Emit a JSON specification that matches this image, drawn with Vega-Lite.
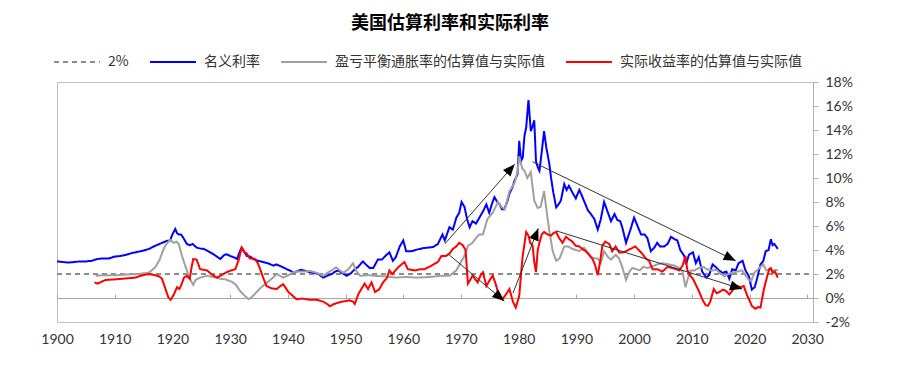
{
  "$schema": "https://vega.github.io/schema/vega-lite/v6.json",
  "width": 756,
  "height": 240,
  "autosize": "none",
  "padding": {"left": 57, "top": 82, "right": 86, "bottom": 53},
  "background": "white",
  "title": {"text": "美国估算利率和实际利率", "font": "Noto Sans CJK SC", "fontSize": 18, "fontWeight": "bold", "color": "#000000", "anchor": "middle", "frame": "group", "dx": 15, "offset": 5},
  "config": {
    "view": {"stroke": "#c0c0c0", "strokeWidth": 1},
    "axis": {"grid": false, "title": null},
    "axisY": {"labelOverlap": false}
  },
  "datasets": {
    "rates": [
      {"s":"D","t":1900,"v":2},{"s":"D","t":2031,"v":2},
      {"s":"N","t":1900,"v":3.05},{"s":"N","t":1901,"v":3.0},{"s":"N","t":1902,"v":2.95},{"s":"N","t":1903,"v":3.0},{"s":"N","t":1904,"v":3.05},{"s":"N","t":1905,"v":3.05},{"s":"N","t":1906,"v":3.1},{"s":"N","t":1907,"v":3.25},{"s":"N","t":1908,"v":3.3},{"s":"N","t":1909,"v":3.3},{"s":"N","t":1910,"v":3.45},{"s":"N","t":1911,"v":3.5},{"s":"N","t":1912,"v":3.6},{"s":"N","t":1913,"v":3.75},{"s":"N","t":1914,"v":3.85},{"s":"N","t":1915,"v":3.95},{"s":"N","t":1916,"v":4.1},{"s":"N","t":1917,"v":4.35},{"s":"N","t":1918,"v":4.55},{"s":"N","t":1919,"v":4.75},{"s":"N","t":1919.6,"v":4.8},{"s":"N","t":1920.0,"v":5.3},{"s":"N","t":1920.5,"v":5.75},{"s":"N","t":1920.8,"v":5.4},{"s":"N","t":1921.1,"v":5.3},{"s":"N","t":1921.5,"v":5.3},{"s":"N","t":1921.9,"v":5.0},{"s":"N","t":1922.5,"v":4.5},{"s":"N","t":1923,"v":4.4},{"s":"N","t":1923.5,"v":4.5},{"s":"N","t":1924.2,"v":4.2},{"s":"N","t":1925,"v":4.1},{"s":"N","t":1925.4,"v":4.1},{"s":"N","t":1926,"v":3.95},{"s":"N","t":1927.1,"v":3.65},{"s":"N","t":1928,"v":3.35},{"s":"N","t":1928.3,"v":3.25},{"s":"N","t":1929,"v":3.6},{"s":"N","t":1929.4,"v":3.65},{"s":"N","t":1930,"v":3.5},{"s":"N","t":1930.6,"v":3.4},{"s":"N","t":1931.2,"v":3.25},{"s":"N","t":1931.7,"v":3.9},{"s":"N","t":1932,"v":4.2},{"s":"N","t":1932.5,"v":3.8},{"s":"N","t":1932.9,"v":3.5},{"s":"N","t":1933.5,"v":3.45},{"s":"N","t":1934,"v":3.25},{"s":"N","t":1934.8,"v":3.1},{"s":"N","t":1935.7,"v":3.0},{"s":"N","t":1936.5,"v":2.9},{"s":"N","t":1937.5,"v":2.7},{"s":"N","t":1938,"v":2.8},{"s":"N","t":1939,"v":2.6},{"s":"N","t":1939.8,"v":2.4},{"s":"N","t":1940.3,"v":2.3},{"s":"N","t":1940.9,"v":2.15},{"s":"N","t":1941.5,"v":2.2},{"s":"N","t":1942.2,"v":2.35},{"s":"N","t":1942.7,"v":2.3},{"s":"N","t":1943.5,"v":2.2},{"s":"N","t":1944.5,"v":2.1},{"s":"N","t":1945.3,"v":2.0},{"s":"N","t":1946.1,"v":1.7},{"s":"N","t":1946.8,"v":1.85},{"s":"N","t":1947.6,"v":2.0},{"s":"N","t":1948.2,"v":2.2},{"s":"N","t":1948.7,"v":2.3},{"s":"N","t":1949.5,"v":2.05},{"s":"N","t":1950.2,"v":1.85},{"s":"N","t":1950.9,"v":2.05},{"s":"N","t":1951.6,"v":2.4},{"s":"N","t":1952.2,"v":2.6},{"s":"N","t":1953.0,"v":3.05},{"s":"N","t":1953.5,"v":2.8},{"s":"N","t":1954.2,"v":2.5},{"s":"N","t":1954.8,"v":2.5},{"s":"N","t":1955.6,"v":3.2},{"s":"N","t":1956.3,"v":3.2},{"s":"N","t":1957.1,"v":3.6},{"s":"N","t":1957.6,"v":3.8},{"s":"N","t":1958.2,"v":3.1},{"s":"N","t":1958.7,"v":3.4},{"s":"N","t":1959.4,"v":4.3},{"s":"N","t":1960.0,"v":4.8},{"s":"N","t":1960.5,"v":3.9},{"s":"N","t":1961.4,"v":3.9},{"s":"N","t":1962.5,"v":4.05},{"s":"N","t":1963.4,"v":4.15},{"s":"N","t":1964.3,"v":4.2},{"s":"N","t":1965.2,"v":4.25},{"s":"N","t":1966.0,"v":4.5},{"s":"N","t":1966.8,"v":5.3},{"s":"N","t":1967.2,"v":4.8},{"s":"N","t":1968,"v":5.9},{"s":"N","t":1968.6,"v":5.7},{"s":"N","t":1969.2,"v":6.7},{"s":"N","t":1969.7,"v":7.1},{"s":"N","t":1970.1,"v":8.0},{"s":"N","t":1970.6,"v":7.6},{"s":"N","t":1971.1,"v":6.5},{"s":"N","t":1971.5,"v":5.9},{"s":"N","t":1972.0,"v":6.4},{"s":"N","t":1972.6,"v":6.2},{"s":"N","t":1973.2,"v":6.7},{"s":"N","t":1973.8,"v":7.2},{"s":"N","t":1974.4,"v":7.8},{"s":"N","t":1974.9,"v":7.1},{"s":"N","t":1975.4,"v":7.9},{"s":"N","t":1975.8,"v":8.4},{"s":"N","t":1976.3,"v":8.0},{"s":"N","t":1976.7,"v":7.8},{"s":"N","t":1977.1,"v":7.4},{"s":"N","t":1977.5,"v":7.4},{"s":"N","t":1978.0,"v":8.0},{"s":"N","t":1978.4,"v":8.7},{"s":"N","t":1978.9,"v":9.2},{"s":"N","t":1979.3,"v":9.8},{"s":"N","t":1979.8,"v":10.3},{"s":"N","t":1980.1,"v":13.1},{"s":"N","t":1980.4,"v":11.4},{"s":"N","t":1980.7,"v":11.7},{"s":"N","t":1981.0,"v":13.5},{"s":"N","t":1981.3,"v":14.2},{"s":"N","t":1981.7,"v":16.5},{"s":"N","t":1982.1,"v":13.9},{"s":"N","t":1982.4,"v":14.3},{"s":"N","t":1982.7,"v":14.8},{"s":"N","t":1983.0,"v":11.4},{"s":"N","t":1983.3,"v":10.9},{"s":"N","t":1983.6,"v":10.6},{"s":"N","t":1984.0,"v":12.2},{"s":"N","t":1984.4,"v":13.9},{"s":"N","t":1984.8,"v":12.5},{"s":"N","t":1985.0,"v":12.0},{"s":"N","t":1985.3,"v":11.2},{"s":"N","t":1985.6,"v":10.05},{"s":"N","t":1986.0,"v":8.8},{"s":"N","t":1986.5,"v":7.55},{"s":"N","t":1986.9,"v":7.8},{"s":"N","t":1987.3,"v":8.1},{"s":"N","t":1987.9,"v":9.5},{"s":"N","t":1988.3,"v":9.0},{"s":"N","t":1988.7,"v":9.35},{"s":"N","t":1989.3,"v":8.8},{"s":"N","t":1989.9,"v":8.3},{"s":"N","t":1990.5,"v":9.0},{"s":"N","t":1990.8,"v":8.7},{"s":"N","t":1991.4,"v":8.0},{"s":"N","t":1992.0,"v":7.3},{"s":"N","t":1992.5,"v":7.0},{"s":"N","t":1993.1,"v":6.6},{"s":"N","t":1993.7,"v":5.7},{"s":"N","t":1994.2,"v":6.5},{"s":"N","t":1994.8,"v":8.0},{"s":"N","t":1995.4,"v":7.2},{"s":"N","t":1996.0,"v":6.4},{"s":"N","t":1996.6,"v":7.0},{"s":"N","t":1997.1,"v":6.5},{"s":"N","t":1997.6,"v":6.4},{"s":"N","t":1998.0,"v":5.8},{"s":"N","t":1998.6,"v":4.6},{"s":"N","t":1999.3,"v":5.6},{"s":"N","t":2000.0,"v":6.7},{"s":"N","t":2000.6,"v":6.0},{"s":"N","t":2001.2,"v":5.3},{"s":"N","t":2001.8,"v":5.3},{"s":"N","t":2002.3,"v":5.0},{"s":"N","t":2002.9,"v":3.9},{"s":"N","t":2003.5,"v":4.2},{"s":"N","t":2004.0,"v":4.6},{"s":"N","t":2004.5,"v":4.3},{"s":"N","t":2005.2,"v":4.3},{"s":"N","t":2005.8,"v":4.5},{"s":"N","t":2006.4,"v":5.1},{"s":"N","t":2007.0,"v":4.9},{"s":"N","t":2007.5,"v":4.8},{"s":"N","t":2008.0,"v":4.0},{"s":"N","t":2008.7,"v":3.5},{"s":"N","t":2009.0,"v":2.8},{"s":"N","t":2009.5,"v":3.6},{"s":"N","t":2010.2,"v":3.8},{"s":"N","t":2010.7,"v":2.9},{"s":"N","t":2011.2,"v":3.4},{"s":"N","t":2011.8,"v":2.2},{"s":"N","t":2012.5,"v":1.7},{"s":"N","t":2013.0,"v":1.9},{"s":"N","t":2013.6,"v":2.8},{"s":"N","t":2014.1,"v":2.6},{"s":"N","t":2014.7,"v":2.3},{"s":"N","t":2015.3,"v":2.1},{"s":"N","t":2016.0,"v":2.2},{"s":"N","t":2016.5,"v":1.6},{"s":"N","t":2017.0,"v":2.4},{"s":"N","t":2017.6,"v":2.3},{"s":"N","t":2018.1,"v":2.9},{"s":"N","t":2018.8,"v":3.1},{"s":"N","t":2019.3,"v":2.3},{"s":"N","t":2019.9,"v":1.8},{"s":"N","t":2020.4,"v":0.7},{"s":"N","t":2020.9,"v":0.9},{"s":"N","t":2021.3,"v":1.6},{"s":"N","t":2021.9,"v":2.8},{"s":"N","t":2022.4,"v":3.1},{"s":"N","t":2022.8,"v":3.9},{"s":"N","t":2023.3,"v":4.0},{"s":"N","t":2023.7,"v":4.9},{"s":"N","t":2024.0,"v":4.4},{"s":"N","t":2024.3,"v":4.5},{"s":"N","t":2024.9,"v":4.1},
      {"s":"B","t":1906.7,"v":1.85},{"s":"B","t":1908,"v":1.9},{"s":"B","t":1910.4,"v":1.9},{"s":"B","t":1912,"v":1.95},{"s":"B","t":1914,"v":2.0},{"s":"B","t":1915.9,"v":2.1},{"s":"B","t":1917.0,"v":2.55},{"s":"B","t":1917.8,"v":3.2},{"s":"B","t":1918.4,"v":4.0},{"s":"B","t":1918.8,"v":4.4},{"s":"B","t":1919.6,"v":4.85},{"s":"B","t":1920.2,"v":4.6},{"s":"B","t":1920.7,"v":4.7},{"s":"B","t":1921.1,"v":4.5},{"s":"B","t":1921.6,"v":3.6},{"s":"B","t":1922.0,"v":3.0},{"s":"B","t":1922.5,"v":2.3},{"s":"B","t":1923.0,"v":1.6},{"s":"B","t":1923.6,"v":1.1},{"s":"B","t":1924.0,"v":1.5},{"s":"B","t":1924.8,"v":1.7},{"s":"B","t":1926,"v":1.85},{"s":"B","t":1927,"v":1.75},{"s":"B","t":1928.3,"v":1.6},{"s":"B","t":1929.2,"v":1.55},{"s":"B","t":1930.3,"v":1.35},{"s":"B","t":1931.0,"v":1.1},{"s":"B","t":1931.7,"v":0.6},{"s":"B","t":1932.5,"v":0.2},{"s":"B","t":1933.2,"v":-0.1},{"s":"B","t":1933.8,"v":0.1},{"s":"B","t":1934.6,"v":0.5},{"s":"B","t":1935.4,"v":0.9},{"s":"B","t":1936.3,"v":1.25},{"s":"B","t":1937.2,"v":1.6},{"s":"B","t":1938.1,"v":2.0},{"s":"B","t":1939.2,"v":1.7},{"s":"B","t":1940.1,"v":1.9},{"s":"B","t":1940.9,"v":2.15},{"s":"B","t":1941.5,"v":2.2},{"s":"B","t":1942.5,"v":2.2},{"s":"B","t":1943.8,"v":2.25},{"s":"B","t":1945,"v":2.1},{"s":"B","t":1946.1,"v":1.85},{"s":"B","t":1947.2,"v":2.2},{"s":"B","t":1948.4,"v":2.55},{"s":"B","t":1949.0,"v":2.3},{"s":"B","t":1949.6,"v":2.1},{"s":"B","t":1950.5,"v":2.4},{"s":"B","t":1951.3,"v":2.9},{"s":"B","t":1951.8,"v":2.3},{"s":"B","t":1952.5,"v":1.85},{"s":"B","t":1954,"v":1.9},{"s":"B","t":1955,"v":1.85},{"s":"B","t":1957,"v":1.8},{"s":"B","t":1958.8,"v":1.7},{"s":"B","t":1960.5,"v":1.75},{"s":"B","t":1962.3,"v":1.7},{"s":"B","t":1964.5,"v":1.75},{"s":"B","t":1966.9,"v":1.86},{"s":"B","t":1968.0,"v":1.85},{"s":"B","t":1969.2,"v":2.3},{"s":"B","t":1970.0,"v":3.0},{"s":"B","t":1970.6,"v":3.5},{"s":"B","t":1971.2,"v":4.35},{"s":"B","t":1972.0,"v":4.6},{"s":"B","t":1972.6,"v":5.0},{"s":"B","t":1973.2,"v":5.3},{"s":"B","t":1973.8,"v":5.3},{"s":"B","t":1974.6,"v":6.6},{"s":"B","t":1975.5,"v":7.1},{"s":"B","t":1976.4,"v":8.0},{"s":"B","t":1977.0,"v":7.6},{"s":"B","t":1977.6,"v":7.4},{"s":"B","t":1978.4,"v":8.9},{"s":"B","t":1979.3,"v":9.6},{"s":"B","t":1979.8,"v":10.5},{"s":"B","t":1980.1,"v":11.8},{"s":"B","t":1980.6,"v":10.8},{"s":"B","t":1981.0,"v":10.6},{"s":"B","t":1981.5,"v":10.0},{"s":"B","t":1982.1,"v":10.5},{"s":"B","t":1982.7,"v":8.1},{"s":"B","t":1983.3,"v":7.5},{"s":"B","t":1983.8,"v":7.6},{"s":"B","t":1984.4,"v":8.9},{"s":"B","t":1984.8,"v":7.4},{"s":"B","t":1985.3,"v":5.6},{"s":"B","t":1985.9,"v":3.9},{"s":"B","t":1986.5,"v":3.1},{"s":"B","t":1987.1,"v":3.3},{"s":"B","t":1987.9,"v":4.3},{"s":"B","t":1988.5,"v":4.3},{"s":"B","t":1989.3,"v":4.1},{"s":"B","t":1989.9,"v":4.0},{"s":"B","t":1990.5,"v":3.9},{"s":"B","t":1991.3,"v":4.2},{"s":"B","t":1992.0,"v":3.8},{"s":"B","t":1992.6,"v":3.4},{"s":"B","t":1993.2,"v":3.3},{"s":"B","t":1993.7,"v":3.3},{"s":"B","t":1994.2,"v":2.9},{"s":"B","t":1994.8,"v":3.9},{"s":"B","t":1995.5,"v":3.4},{"s":"B","t":1996.0,"v":3.2},{"s":"B","t":1996.8,"v":3.6},{"s":"B","t":1997.4,"v":3.3},{"s":"B","t":1998.0,"v":2.5},{"s":"B","t":1998.6,"v":1.5},{"s":"B","t":1999.2,"v":2.2},{"s":"B","t":1999.7,"v":2.5},{"s":"B","t":2000.4,"v":2.4},{"s":"B","t":2001.0,"v":2.3},{"s":"B","t":2001.6,"v":2.6},{"s":"B","t":2002.3,"v":2.5},{"s":"B","t":2003.0,"v":2.6},{"s":"B","t":2004.0,"v":2.8},{"s":"B","t":2005.0,"v":2.9},{"s":"B","t":2006.0,"v":2.8},{"s":"B","t":2007.0,"v":2.7},{"s":"B","t":2007.8,"v":2.5},{"s":"B","t":2008.4,"v":2.2},{"s":"B","t":2008.9,"v":0.9},{"s":"B","t":2009.3,"v":1.6},{"s":"B","t":2009.8,"v":2.3},{"s":"B","t":2010.5,"v":2.3},{"s":"B","t":2011.2,"v":2.5},{"s":"B","t":2012.0,"v":2.6},{"s":"B","t":2012.6,"v":2.4},{"s":"B","t":2013.5,"v":2.3},{"s":"B","t":2014.3,"v":2.35},{"s":"B","t":2015.0,"v":2.0},{"s":"B","t":2015.7,"v":1.8},{"s":"B","t":2016.3,"v":2.0},{"s":"B","t":2017.0,"v":2.1},{"s":"B","t":2017.8,"v":2.2},{"s":"B","t":2018.7,"v":2.3},{"s":"B","t":2019.4,"v":1.8},{"s":"B","t":2019.9,"v":1.5},{"s":"B","t":2020.3,"v":1.4},{"s":"B","t":2020.8,"v":2.1},{"s":"B","t":2021.5,"v":2.4},{"s":"B","t":2021.9,"v":2.6},{"s":"B","t":2022.4,"v":2.8},{"s":"B","t":2022.9,"v":2.3},{"s":"B","t":2023.5,"v":2.4},{"s":"B","t":2024.0,"v":2.3},{"s":"B","t":2024.9,"v":2.35},
      {"s":"R","t":1906.5,"v":1.3},{"s":"R","t":1907,"v":1.2},{"s":"R","t":1907.5,"v":1.3},{"s":"R","t":1908.4,"v":1.5},{"s":"R","t":1910,"v":1.55},{"s":"R","t":1911.3,"v":1.6},{"s":"R","t":1912.5,"v":1.65},{"s":"R","t":1913.6,"v":1.7},{"s":"R","t":1914.5,"v":1.85},{"s":"R","t":1915.9,"v":2.0},{"s":"R","t":1917,"v":1.9},{"s":"R","t":1917.7,"v":1.8},{"s":"R","t":1918.2,"v":1.6},{"s":"R","t":1918.8,"v":0.75},{"s":"R","t":1919.3,"v":0.05},{"s":"R","t":1919.7,"v":-0.15},{"s":"R","t":1920.2,"v":0.25},{"s":"R","t":1920.8,"v":0.9},{"s":"R","t":1921.2,"v":0.75},{"s":"R","t":1921.6,"v":1.15},{"s":"R","t":1922.0,"v":1.7},{"s":"R","t":1922.5,"v":1.85},{"s":"R","t":1923.0,"v":1.6},{"s":"R","t":1923.3,"v":2.5},{"s":"R","t":1923.6,"v":3.25},{"s":"R","t":1924.2,"v":3.2},{"s":"R","t":1924.8,"v":2.4},{"s":"R","t":1926.0,"v":2.3},{"s":"R","t":1927.0,"v":1.9},{"s":"R","t":1927.7,"v":1.7},{"s":"R","t":1928.5,"v":1.9},{"s":"R","t":1929.4,"v":2.15},{"s":"R","t":1930.2,"v":2.3},{"s":"R","t":1930.9,"v":2.4},{"s":"R","t":1931.5,"v":3.2},{"s":"R","t":1932.0,"v":4.2},{"s":"R","t":1932.5,"v":3.8},{"s":"R","t":1932.9,"v":3.7},{"s":"R","t":1933.4,"v":3.3},{"s":"R","t":1934.3,"v":3.25},{"s":"R","t":1934.8,"v":2.9},{"s":"R","t":1935.2,"v":2.4},{"s":"R","t":1935.8,"v":1.6},{"s":"R","t":1936.3,"v":1.0},{"s":"R","t":1937.2,"v":0.8},{"s":"R","t":1938.1,"v":0.75},{"s":"R","t":1938.7,"v":1.0},{"s":"R","t":1939.2,"v":1.15},{"s":"R","t":1940.1,"v":0.5},{"s":"R","t":1940.8,"v":0.2},{"s":"R","t":1941.5,"v":-0.1},{"s":"R","t":1942.5,"v":-0.05},{"s":"R","t":1943.8,"v":-0.15},{"s":"R","t":1945,"v":-0.15},{"s":"R","t":1946.1,"v":-0.3},{"s":"R","t":1946.8,"v":-0.5},{"s":"R","t":1947.3,"v":-0.7},{"s":"R","t":1948.0,"v":-0.5},{"s":"R","t":1949.0,"v":-0.35},{"s":"R","t":1950.0,"v":-0.25},{"s":"R","t":1950.7,"v":-0.2},{"s":"R","t":1951.3,"v":-0.3},{"s":"R","t":1951.6,"v":-0.5},{"s":"R","t":1952.2,"v":0.3},{"s":"R","t":1952.8,"v":0.8},{"s":"R","t":1953.3,"v":1.2},{"s":"R","t":1953.9,"v":0.75},{"s":"R","t":1954.5,"v":1.3},{"s":"R","t":1955.1,"v":0.5},{"s":"R","t":1955.8,"v":0.7},{"s":"R","t":1956.5,"v":1.3},{"s":"R","t":1957.2,"v":1.7},{"s":"R","t":1957.6,"v":2.3},{"s":"R","t":1958.1,"v":2.0},{"s":"R","t":1959.1,"v":2.55},{"s":"R","t":1960.2,"v":3.0},{"s":"R","t":1960.8,"v":2.4},{"s":"R","t":1962.0,"v":2.3},{"s":"R","t":1963.0,"v":2.4},{"s":"R","t":1963.7,"v":2.4},{"s":"R","t":1964.9,"v":2.7},{"s":"R","t":1966.0,"v":3.0},{"s":"R","t":1966.6,"v":3.5},{"s":"R","t":1967.4,"v":3.5},{"s":"R","t":1968.0,"v":3.7},{"s":"R","t":1968.6,"v":4.1},{"s":"R","t":1969.2,"v":4.3},{"s":"R","t":1969.7,"v":4.6},{"s":"R","t":1970.3,"v":4.4},{"s":"R","t":1970.8,"v":4.0},{"s":"R","t":1971.2,"v":1.2},{"s":"R","t":1971.6,"v":1.5},{"s":"R","t":1972.0,"v":1.86},{"s":"R","t":1972.9,"v":1.3},{"s":"R","t":1973.4,"v":1.9},{"s":"R","t":1973.8,"v":2.15},{"s":"R","t":1974.4,"v":1.0},{"s":"R","t":1975.0,"v":1.5},{"s":"R","t":1975.5,"v":1.86},{"s":"R","t":1976.0,"v":1.2},{"s":"R","t":1976.4,"v":0.5},{"s":"R","t":1977.2,"v":-0.1},{"s":"R","t":1977.8,"v":0.3},{"s":"R","t":1978.4,"v":0.75},{"s":"R","t":1979.0,"v":-0.3},{"s":"R","t":1979.5,"v":-0.8},{"s":"R","t":1980.1,"v":0.2},{"s":"R","t":1980.5,"v":2.5},{"s":"R","t":1980.7,"v":3.5},{"s":"R","t":1981.0,"v":4.5},{"s":"R","t":1981.3,"v":5.5},{"s":"R","t":1981.7,"v":5.2},{"s":"R","t":1982.0,"v":4.6},{"s":"R","t":1982.4,"v":4.4},{"s":"R","t":1982.7,"v":3.0},{"s":"R","t":1983.0,"v":2.15},{"s":"R","t":1983.3,"v":4.0},{"s":"R","t":1983.6,"v":4.6},{"s":"R","t":1984.0,"v":5.3},{"s":"R","t":1984.4,"v":5.5},{"s":"R","t":1985.0,"v":5.3},{"s":"R","t":1985.6,"v":5.2},{"s":"R","t":1986.0,"v":5.4},{"s":"R","t":1986.5,"v":5.5},{"s":"R","t":1987.0,"v":5.0},{"s":"R","t":1987.6,"v":4.6},{"s":"R","t":1988.2,"v":5.1},{"s":"R","t":1988.7,"v":4.9},{"s":"R","t":1989.3,"v":4.7},{"s":"R","t":1989.9,"v":4.35},{"s":"R","t":1990.5,"v":4.3},{"s":"R","t":1991.0,"v":4.1},{"s":"R","t":1991.6,"v":3.9},{"s":"R","t":1992.2,"v":3.6},{"s":"R","t":1992.8,"v":3.25},{"s":"R","t":1993.2,"v":2.8},{"s":"R","t":1993.7,"v":1.9},{"s":"R","t":1994.1,"v":3.0},{"s":"R","t":1994.5,"v":4.35},{"s":"R","t":1995.0,"v":4.7},{"s":"R","t":1995.7,"v":4.5},{"s":"R","t":1996.2,"v":3.9},{"s":"R","t":1996.8,"v":4.3},{"s":"R","t":1997.4,"v":3.8},{"s":"R","t":1998.0,"v":3.8},{"s":"R","t":1998.6,"v":3.9},{"s":"R","t":1999.4,"v":4.1},{"s":"R","t":2000.2,"v":4.3},{"s":"R","t":2000.8,"v":4.0},{"s":"R","t":2001.4,"v":3.7},{"s":"R","t":2002.0,"v":3.3},{"s":"R","t":2002.6,"v":3.1},{"s":"R","t":2003.2,"v":2.4},{"s":"R","t":2004.0,"v":2.4},{"s":"R","t":2004.9,"v":2.2},{"s":"R","t":2005.8,"v":2.6},{"s":"R","t":2006.6,"v":2.5},{"s":"R","t":2007.3,"v":2.4},{"s":"R","t":2007.8,"v":2.3},{"s":"R","t":2008.4,"v":2.7},{"s":"R","t":2008.9,"v":3.5},{"s":"R","t":2009.2,"v":2.4},{"s":"R","t":2009.5,"v":2.0},{"s":"R","t":2010.2,"v":1.6},{"s":"R","t":2010.7,"v":1.1},{"s":"R","t":2011.3,"v":0.5},{"s":"R","t":2011.8,"v":-0.1},{"s":"R","t":2012.4,"v":-0.6},{"s":"R","t":2012.8,"v":-0.65},{"s":"R","t":2013.2,"v":-0.3},{"s":"R","t":2013.8,"v":0.75},{"s":"R","t":2014.3,"v":0.4},{"s":"R","t":2014.8,"v":0.5},{"s":"R","t":2015.4,"v":0.7},{"s":"R","t":2015.9,"v":0.6},{"s":"R","t":2016.5,"v":0.3},{"s":"R","t":2017.0,"v":0.6},{"s":"R","t":2017.5,"v":0.9},{"s":"R","t":2017.9,"v":1.0},{"s":"R","t":2018.5,"v":0.9},{"s":"R","t":2019.0,"v":1.0},{"s":"R","t":2019.6,"v":0.2},{"s":"R","t":2020.0,"v":-0.2},{"s":"R","t":2020.4,"v":-0.65},{"s":"R","t":2021.0,"v":-0.9},{"s":"R","t":2021.5,"v":-0.75},{"s":"R","t":2021.9,"v":-0.8},{"s":"R","t":2022.5,"v":0.75},{"s":"R","t":2023.0,"v":1.7},{"s":"R","t":2023.4,"v":2.4},{"s":"R","t":2023.7,"v":2.5},{"s":"R","t":2024.0,"v":2.1},{"s":"R","t":2024.4,"v":2.2},{"s":"R","t":2024.9,"v":1.7}
    ],
    "arrows": [
      {"x1": 1967.2, "y1": 4.5, "x2": 1979.3, "y2": 11.15},
      {"x1": 1967.7, "y1": 3.7, "x2": 1977.5, "y2": -0.25},
      {"x1": 1979.0, "y1": 0.4, "x2": 1983.4, "y2": 5.8},
      {"x1": 1982.4, "y1": 11.35, "x2": 2017.6, "y2": 3.1},
      {"x1": 1986.5, "y1": 5.6, "x2": 2018.7, "y2": 0.75}
    ]
  },
  "resolve": {"axis": {"x": "independent", "y": "independent"}},
  "layer": [
    {
      "data": {"name": "rates"},
      "mark": {"type": "line", "strokeWidth": 2, "interpolate": "linear"},
      "encoding": {
        "x": {"field": "t", "type": "quantitative", "scale": {"domain": [1900, 2031], "nice": false, "zero": false},
          "axis": {"orient": "bottom", "values": [1900,1910,1920,1930,1940,1950,1960,1970,1980,1990,2000,2010,2020,2030], "format": "d", "domain": false, "ticks": false, "labelPadding": 10, "labelFont": "Lato", "labelFontSize": 14, "labelColor": "#333333", "labelFlush": false, "labelOverlap": false}},
        "y": {"field": "v", "type": "quantitative", "scale": {"domain": [-2, 18], "nice": false, "zero": false},
          "axis": {"orient": "right", "values": [-2,0,2,4,6,8,10,12,14,16,18], "labelExpr": "datum.value + '%'", "domain": true, "domainColor": "#b0b0b0", "ticks": true, "tickColor": "#b0b0b0", "tickSize": 5, "labelPadding": 7, "labelFont": "Lato", "labelFontSize": 14, "labelColor": "#333333", "labelFlush": false, "labelOverlap": false, "labelBound": false}},
        "color": {"field": "s", "type": "nominal",
          "scale": {"domain": ["D", "N", "B", "R"], "range": ["#8c8c8c", "#0000ff", "#a0a0a0", "#ff0000"]},
          "legend": {"title": null, "orient": "none", "legendX": -4, "legendY": -44, "direction": "horizontal", "columns": 4, "symbolType": "stroke", "symbolSize": 2116, "symbolStrokeWidth": 2, "labelFont": "Noto Sans CJK SC", "labelFontSize": 14, "labelColor": "#333333", "labelOffset": 7, "columnPadding": 17, "padding": 0, "labelLimit": 400,
            "labelExpr": "datum.value == 'D' ? '2%' : datum.value == 'N' ? '名义利率' : datum.value == 'B' ? '盈亏平衡通胀率的估算值与实际值' : '实际收益率的估算值与实际值'"}},
        "strokeDash": {"field": "s", "type": "nominal",
          "scale": {"domain": ["D", "N", "B", "R"], "range": [[5, 4], [1, 0], [1, 0], [1, 0]]},
          "legend": {"title": null, "orient": "none", "legendX": -4, "legendY": -44, "direction": "horizontal", "columns": 4, "symbolType": "stroke", "symbolSize": 2116, "symbolStrokeWidth": 2, "labelFont": "Noto Sans CJK SC", "labelFontSize": 14, "labelColor": "#333333", "labelOffset": 7, "columnPadding": 17, "padding": 0, "labelLimit": 400,
            "labelExpr": "datum.value == 'D' ? '2%' : datum.value == 'N' ? '名义利率' : datum.value == 'B' ? '盈亏平衡通胀率的估算值与实际值' : '实际收益率的估算值与实际值'"}}
      }
    },
    {
      "data": {"name": "arrows"},
      "mark": {"type": "rule", "color": "#333333", "strokeWidth": 1},
      "encoding": {
        "x": {"field": "x1", "type": "quantitative", "axis": {"orient": "top", "offset": -216, "values": [1900,1910,1920,1930,1940,1950,1960,1970,1980,1990,2000,2010,2020,2030], "labels": false, "domain": true, "domainColor": "#a6a6a6", "domainWidth": 1.2, "ticks": true, "tickColor": "#a6a6a6", "tickSize": 4}},
        "y": {"field": "y1", "type": "quantitative", "axis": null},
        "x2": {"field": "x2"},
        "y2": {"field": "y2"}
      }
    },
    {
      "data": {"name": "arrows"},
      "transform": [
        {"calculate": "atan2((datum.x2 - datum.x1) * 5.771, (datum.y2 - datum.y1) * 12) * 180 / PI", "as": "ang"}
      ],
      "mark": {"type": "point", "shape": "M0,0L-1,2.4L1,2.4Z", "filled": true, "size": 100, "color": "#000000", "opacity": 1, "strokeWidth": 0},
      "encoding": {
        "x": {"field": "x2", "type": "quantitative", "axis": null},
        "y": {"field": "y2", "type": "quantitative", "axis": null},
        "angle": {"field": "ang", "type": "quantitative", "scale": null}
      }
    }
  ]
}
